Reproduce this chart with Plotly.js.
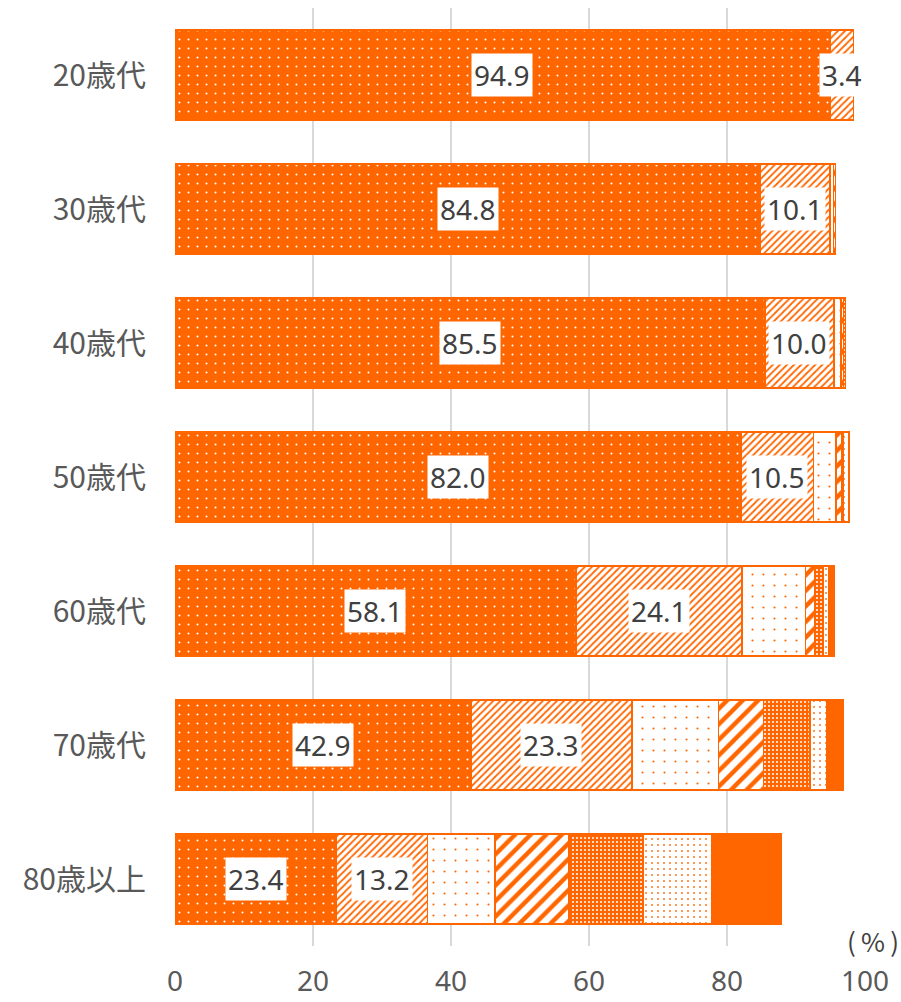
<!DOCTYPE html>
<html>
<head>
<meta charset="utf-8">
<script src="https://cdn.plot.ly/plotly-3.0.1.min.js"></script>
<style>
html,body{margin:0;padding:0;background:#fff;}
#chart{width:901px;height:1002px;}
</style>
</head>
<body>
<div id="chart"></div>
<script>
// ---- data ----
const categories = ['20歳代','30歳代','40歳代','50歳代','60歳代','70歳代','80歳以上'];
const s1 = [94.9, 84.8, 85.5, 82.0, 58.1, 42.9, 23.4];
const s2 = [3.4, 10.1, 10.0, 10.5, 24.1, 23.3, 13.2];
const s3 = [null, 0.5, 1.0, 3.3, 9.2, 12.6, 9.8];
const s4 = [null, 0.3, 0.4, 0.8, 1.3, 6.5, 10.7];
const s5 = [null, null, 0.3, 0.3, 1.2, 6.7, 10.7];
const s6 = [null, null, null, 0.8, 0.9, 2.5, 10.0];
const s7 = [null, null, null, null, 0.7, 2.3, 10.1];
const xTicks = [0, 20, 40, 60, 80, 100];
const unitLabel = '(\u2009%\u2009)';

// ---- styling ----
const ORANGE = '#FF6600';
const series = [s1, s2, s3, s4, s5, s6, s7];
const patterns = [
  {shape: '.', bgcolor: ORANGE, fgcolor: '#FFFFFF', size: 9, solidity: 0.04, fillmode: 'replace'},
  {shape: '/', bgcolor: '#FFFFFF', fgcolor: ORANGE, size: 5, solidity: 0.35, fillmode: 'replace'},
  {shape: '.', bgcolor: '#FFFFFF', fgcolor: ORANGE, size: 11, solidity: 0.03, fillmode: 'replace'},
  {shape: '/', bgcolor: '#FFFFFF', fgcolor: ORANGE, size: 11, solidity: 0.4, fillmode: 'replace'},
  {shape: '.', bgcolor: ORANGE, fgcolor: '#FFFFFF', size: 4, solidity: 0.2, fillmode: 'replace'},
  {shape: '.', bgcolor: '#FFFFFF', fgcolor: ORANGE, size: 6, solidity: 0.07, fillmode: 'replace'},
  null
];

const traces = series.map((vals, i) => {
  const marker = {color: ORANGE, line: {color: ORANGE, width: 1.5}};
  if (patterns[i]) marker.pattern = patterns[i];
  return {
    type: 'bar',
    orientation: 'h',
    y: categories,
    x: vals,
    marker: marker,
    hoverinfo: 'x+y',
    showlegend: false
  };
});

// labels for first two series, centred in their segments
const annotations = [];
categories.forEach((c, j) => {
  const pairs = [[0, s1[j]], [s1[j], s2[j]]];
  pairs.forEach(([start, v]) => {
    annotations.push({
      x: start + v / 2, y: c, xref: 'x', yref: 'y',
      text: v.toFixed(1), showarrow: false,
      bgcolor: '#FFFFFF', borderpad: 2,
      font: {family: 'Noto Sans, Open Sans, sans-serif', size: 28, color: '#404040'}
    });
  });
});
annotations.push({
  xref: 'paper', yref: 'paper', x: 1.052, y: 0.0, xanchor: 'right', yanchor: 'middle',
  yshift: 6,
  text: unitLabel, showarrow: false,
  font: {family: '"Noto Sans CJK JP", sans-serif', size: 26, color: '#404040'}
});

const layout = {
  width: 901, height: 1002,
  margin: {l: 174.5, r: 36, t: 8, b: 56},
  barmode: 'stack',
  bargap: 0.33,
  paper_bgcolor: '#FFFFFF',
  plot_bgcolor: '#FFFFFF',
  font: {family: '"Noto Sans CJK JP", sans-serif'},
  xaxis: {
    range: [0, 100],
    tickvals: xTicks,
    ticktext: xTicks.map(String),
    showgrid: true, gridcolor: '#D9D9D9', gridwidth: 1.5,
    zeroline: false, showline: false,
    ticks: '', ticklabelstandoff: 16,
    tickfont: {family: 'Noto Sans, Open Sans, sans-serif', size: 28, color: '#595959'},
    fixedrange: true
  },
  yaxis: {
    type: 'category',
    autorange: 'reversed',
    showgrid: false, zeroline: false, showline: false,
    ticks: '', ticklabelstandoff: 28,
    tickfont: {family: '"Noto Sans CJK JP", sans-serif', size: 30, color: '#595959'},
    fixedrange: true
  },
  annotations: annotations
};

Plotly.newPlot('chart', traces, layout, {displayModeBar: false, staticPlot: true});
</script>
</body>
</html>
